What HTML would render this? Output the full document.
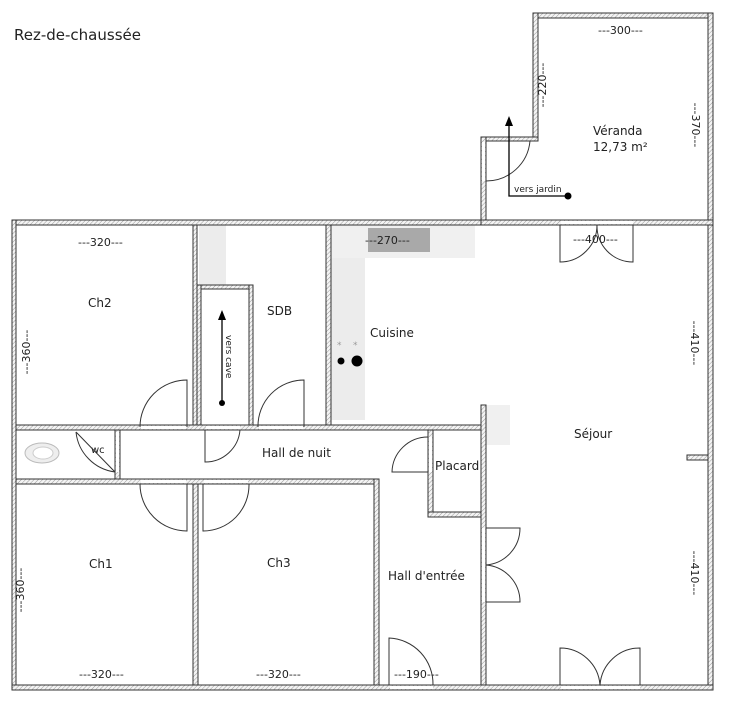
<!DOCTYPE html>
<html><head><meta charset="utf-8"><style>
html,body{margin:0;padding:0;background:#fff;width:736px;height:705px;overflow:hidden}
svg{display:block}
text{font-family:"DejaVu Sans","Liberation Sans",sans-serif;fill:#222}
</style></head><body>
<svg width="736" height="705" viewBox="0 0 736 705" xmlns="http://www.w3.org/2000/svg">
<defs>
<pattern id="h" width="3" height="3" patternUnits="userSpaceOnUse" patternTransform="rotate(45)">
<rect width="3" height="3" fill="#f4f4f4"/><line x1="0" y1="0" x2="0" y2="3" stroke="#999" stroke-width="1"/>
</pattern>
</defs>
<text x="14" y="40" font-size="15">Rez-de-chaussée</text>
<!-- grey areas -->
<rect x="199" y="225" width="27" height="60" fill="#ececec"/>
<rect x="331" y="225" width="34" height="195" fill="#ececec"/>
<rect x="331" y="225" width="144" height="33" fill="#f0f0f0"/>
<rect x="368" y="228" width="62" height="24" fill="#a9a9a9"/>
<rect x="486" y="405" width="24" height="40" fill="#f0f0f0"/>
<g fill="url(#h)" stroke="#333" stroke-width="1">
<!-- outer house -->
<rect x="12" y="220" width="474" height="5"/>
<rect x="708" y="220" width="5" height="470"/>
<rect x="12" y="220" width="4" height="470"/>
<rect x="12" y="685" width="701" height="5"/>
<!-- veranda -->
<rect x="533" y="13" width="180" height="5"/>
<rect x="708" y="13" width="5" height="212"/>
<rect x="533" y="13" width="5" height="128"/>
<rect x="481" y="137" width="57" height="4"/>
<rect x="481" y="137" width="5" height="88"/>
<rect x="481" y="220" width="232" height="5"/>
<!-- interior -->
<rect x="193" y="225" width="4" height="202"/>
<rect x="197" y="285" width="56" height="4"/>
<rect x="197" y="285" width="4" height="142"/>
<rect x="249" y="285" width="4" height="142"/>
<rect x="326" y="225" width="5" height="202"/>
<rect x="16" y="425" width="469" height="5"/>
<rect x="16" y="479" width="362" height="5"/>
<rect x="115" y="430" width="5" height="49"/>
<rect x="193" y="484" width="5" height="201"/>
<rect x="374" y="479" width="5" height="206"/>
<rect x="428" y="430" width="5" height="87"/>
<rect x="428" y="512" width="57" height="5"/>
<rect x="481" y="405" width="5" height="280"/>
<rect x="687" y="455" width="21" height="5"/>
</g>
<!-- door openings (white) -->
<g fill="#fff">
<rect x="141" y="426" width="45" height="3"/>
<rect x="259" y="426" width="44" height="3"/>
<rect x="206" y="426" width="34" height="3"/>
<rect x="141" y="480" width="45" height="3"/>
<rect x="204" y="480" width="44" height="3"/>
<rect x="561" y="221" width="72" height="3"/>
<rect x="561" y="686" width="79" height="3"/>
<rect x="390" y="686" width="43" height="3"/>
<rect x="482" y="528" width="3" height="74"/>
<rect x="429" y="437" width="3" height="35"/>
<rect x="116" y="432" width="3" height="40"/>
<rect x="482" y="142" width="3" height="39"/>
</g>
<!-- doors -->
<g fill="none" stroke="#333" stroke-width="1">
<path d="M187 427 V380 A47 47 0 0 0 140 427"/>
<path d="M304 427 V380 A46 46 0 0 0 258 427"/>
<path d="M205 430 V462 A35 35 0 0 0 240 430"/>
<path d="M187 484 V531 A47 47 0 0 1 140 484"/>
<path d="M203 484 V531 A46 46 0 0 0 249 484"/>
<path d="M428 472 H392 A36 36 0 0 1 428 437"/>
<path d="M115 472 L76 432 M76 432 A45 45 0 0 0 115 472"/>
<path d="M486 528 H520 A37 37 0 0 1 486 565"/>
<path d="M486 602 H520 A37 37 0 0 0 486 565"/>
<path d="M389 685 V638 A46 46 0 0 1 433 685"/>
<path d="M560 685 V648 A40 40 0 0 1 600 685"/>
<path d="M640 685 V648 A40 40 0 0 0 600 685"/>
<path d="M560 225 V262 A37 37 0 0 0 597 225"/>
<path d="M633 225 V262 A36 36 0 0 1 597 225"/>
<path d="M486 141 V181 A44 44 0 0 0 530 141"/>
</g>
<!-- wc bowl -->
<ellipse cx="42" cy="453" rx="17" ry="10" fill="#eee" stroke="#bbb"/>
<ellipse cx="43" cy="453" rx="10" ry="6" fill="#fff" stroke="#ccc"/>
<!-- arrows -->
<g stroke="#000" stroke-width="1.3" fill="none">
<path d="M568 196 H509 V124"/>
<path d="M222 403 V318"/>
</g>
<polygon points="509,116 505,126 513,126" fill="#000"/>
<polygon points="222,310 218,320 226,320" fill="#000"/>
<circle cx="568" cy="196" r="3.5" fill="#000"/>
<circle cx="222" cy="403" r="3" fill="#000"/>
<circle cx="341" cy="361" r="3.5" fill="#000"/>
<circle cx="357" cy="361" r="5.5" fill="#000"/>
<text x="337" y="348" font-size="9" fill="#999" style="fill:#999">*</text>
<text x="353" y="348" font-size="9" style="fill:#999">*</text>
<!-- labels -->
<g font-size="12">
<text x="88" y="307">Ch2</text>
<text x="267" y="315">SDB</text>
<text x="370" y="337">Cuisine</text>
<text x="262" y="457">Hall de nuit</text>
<text x="435" y="470">Placard</text>
<text x="574" y="438">Séjour</text>
<text x="89" y="568">Ch1</text>
<text x="267" y="567">Ch3</text>
<text x="388" y="580">Hall d'entrée</text>
<text x="593" y="135">Véranda</text>
<text x="593" y="151">12,73 m²</text>
</g>
<text x="91" y="453" font-size="10">wc</text>
<text x="514" y="192" font-size="9">vers jardin</text>
<text transform="translate(226,335) rotate(90)" font-size="9">vers cave</text>
<g font-size="11">
<text x="78" y="246">---320---</text>
<text x="365" y="244">---270---</text>
<text x="598" y="34">---300---</text>
<text x="573" y="243">---400---</text>
<text x="79" y="678">---320---</text>
<text x="256" y="678">---320---</text>
<text x="394" y="678">---190---</text>
<text transform="translate(30,352) rotate(-90)" text-anchor="middle">---360---</text>
<text transform="translate(24,590) rotate(-90)" text-anchor="middle">---360---</text>
<text transform="translate(546,85) rotate(-90)" text-anchor="middle">---220---</text>
<text transform="translate(692,125) rotate(90)" text-anchor="middle">---370---</text>
<text transform="translate(691,343) rotate(90)" text-anchor="middle">---410---</text>
<text transform="translate(691,573) rotate(90)" text-anchor="middle">---410---</text>
</g>
</svg>
</body></html>
